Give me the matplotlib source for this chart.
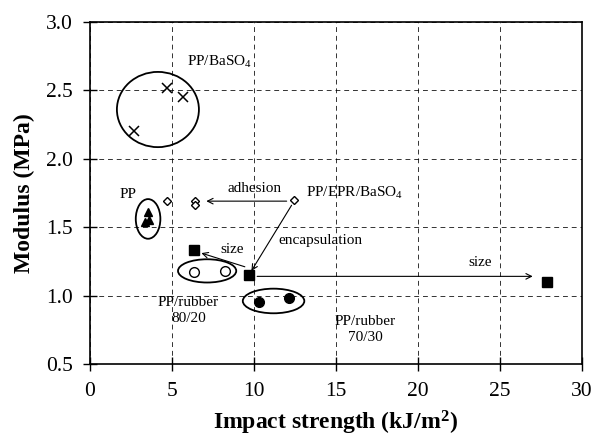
import matplotlib
matplotlib.use("Agg")
import matplotlib.pyplot as plt
from matplotlib.patches import Ellipse

plt.rcParams['font.family'] = ['Liberation Serif', 'DejaVu Serif']
plt.rcParams['mathtext.fontset'] = 'custom'
plt.rcParams['mathtext.rm'] = 'Liberation Serif'
plt.rcParams['mathtext.bf'] = 'Liberation Serif:bold'
plt.rcParams['mathtext.it'] = 'Liberation Serif:italic'

# data (impact strength kJ/m2, modulus MPa)
baso4_x = [2.7, 4.7, 5.65]
baso4_y = [2.20, 2.52, 2.45]

pp_x = [3.35, 3.55, 3.6]
pp_y = [1.54, 1.61, 1.55]

epr_baso4_x = [4.7, 6.4, 6.4, 12.45]
epr_baso4_y = [1.69, 1.69, 1.66, 1.70]

encaps_x = [6.35, 9.7, 27.9]
encaps_y = [1.33, 1.15, 1.10]

rubber80_x = [6.35, 8.25]
rubber80_y = [1.17, 1.18]

rubber70_x = [10.3, 12.15]
rubber70_y = [0.95, 0.98]

x_ticks = [0, 5, 10, 15, 20, 25, 30]
y_ticks = [0.5, 1.0, 1.5, 2.0, 2.5, 3.0]

fig = plt.figure(figsize=(5.95, 4.4), dpi=100)
ax = fig.add_axes([0.151, 0.173, 0.827, 0.777])

ax.plot(baso4_x, baso4_y, 'x', color='black', ms=7, mew=1.1)
ax.plot(pp_x, pp_y, '^', color='black', ms=6)
ax.plot(epr_baso4_x, epr_baso4_y, 'D', mfc='white', mec='black', ms=4.5, mew=1)
ax.plot(encaps_x, encaps_y, 's', color='black', ms=7)
ax.plot(rubber80_x, rubber80_y, 'o', mfc='white', mec='black', ms=7, mew=1)
ax.plot(rubber70_x, rubber70_y, 'o', color='black', ms=7)

# ellipses around groups
for cx, cy, w, h in [(4.15, 2.36, 5.0, 0.55), (3.55, 1.56, 1.5, 0.29),
                     (7.15, 1.18, 3.55, 0.17), (11.2, 0.96, 3.75, 0.18)]:
    ax.add_patch(Ellipse((cx, cy), w, h, fill=False, ec='black', lw=1.3))

arrow = dict(arrowstyle='->', color='black', lw=0.8, shrinkA=0, shrinkB=0)
ax.annotate('', xy=(7.1, 1.69), xytext=(12.0, 1.69), arrowprops=arrow)
ax.annotate('', xy=(9.85, 1.18), xytext=(12.3, 1.66), arrowprops=arrow)
ax.annotate('', xy=(6.8, 1.31), xytext=(9.45, 1.21), arrowprops=arrow)
ax.annotate('', xy=(27.0, 1.14), xytext=(10.2, 1.14), arrowprops=arrow)

fs = 11
ax.text(5.9, 2.71, r'PP/BaSO$_4$', fontsize=fs, ha='left', va='center')
ax.text(2.3, 1.74, 'PP', fontsize=fs, ha='center', va='center')
ax.text(10.05, 1.78, 'adhesion', fontsize=fs, ha='center', va='center')
ax.text(13.2, 1.75, r'PP/EPR/BaSO$_4$', fontsize=fs, ha='left', va='center')
ax.text(11.5, 1.40, 'encapsulation', fontsize=fs, ha='left', va='center')
ax.text(8.65, 1.34, 'size', fontsize=fs, ha='center', va='center')
ax.text(23.8, 1.24, 'size', fontsize=fs, ha='center', va='center')
ax.text(6.0, 0.89, 'PP/rubber\n80/20', fontsize=fs, ha='center', va='center',
        linespacing=1.3)
ax.text(16.8, 0.75, 'PP/rubber\n70/30', fontsize=fs, ha='center', va='center',
        linespacing=1.3)

ax.set_xlim(0, 30)
ax.set_ylim(0.5, 3.0)
ax.set_xticks(x_ticks)
ax.set_yticks(y_ticks)
ax.set_yticklabels(['%.1f' % v for v in y_ticks])
ax.tick_params(direction='inout', length=10, width=1, labelsize=15.5, color='black')
ax.tick_params(axis='y', pad=7)
ax.tick_params(axis='x', pad=8)

ax.grid(True, color='black', linestyle=(0, (5, 4)), linewidth=0.7, alpha=0.8)
for s in ax.spines.values():
    s.set_linewidth(1.2)

ax.set_xlabel(r'Impact strength (kJ/m$^{\mathbf{2}}$)', fontsize=17,
              fontweight='bold', labelpad=6)
ax.set_ylabel('Modulus (MPa)', fontsize=17, fontweight='bold', labelpad=8)

fig.savefig('out.png', dpi=100)
